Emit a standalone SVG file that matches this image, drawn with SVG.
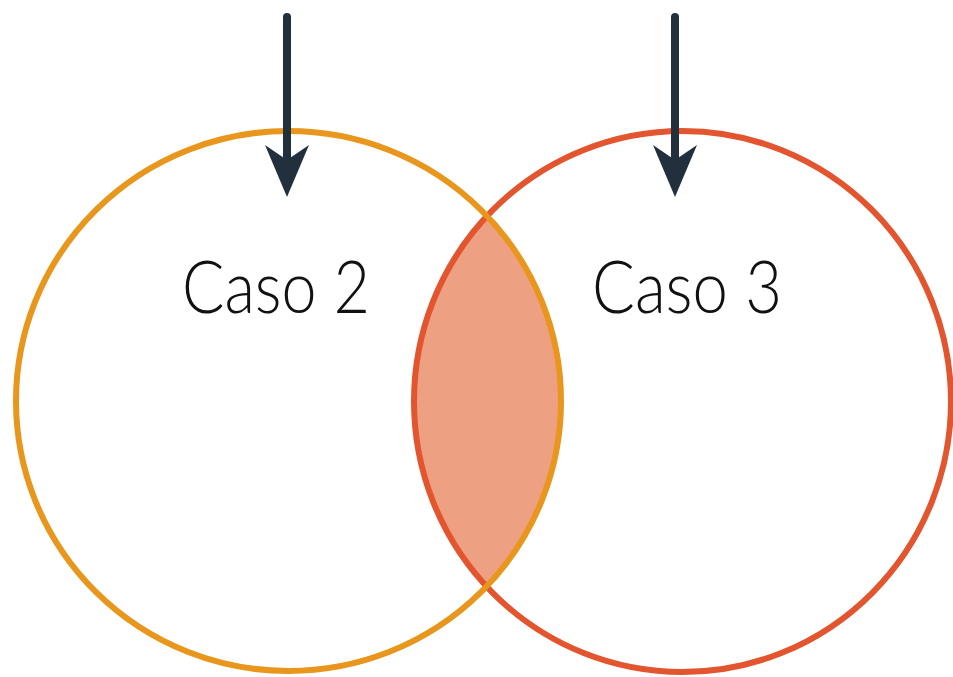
<svg xmlns="http://www.w3.org/2000/svg" width="953" height="677" viewBox="0 0 953 677">
  <style>
    .set { fill: none; stroke-width: 6; }
    .set-a { stroke: #E8961C; }
    .set-b { stroke: #E2552E; }
    .label { font-family: "Lato", "Liberation Sans", sans-serif; font-weight: 300; font-size: 73px; fill: #111111; text-anchor: middle; }
    .arrow { stroke: #22303E; stroke-width: 8; stroke-linecap: round; fill: none; marker-end: url(#head); }
  </style>
  <defs>
    <marker id="head" markerUnits="userSpaceOnUse" viewBox="0 0 52 44" markerWidth="52" markerHeight="44" refX="15" refY="22" orient="auto">
      <path d="M0,0 L52,22 L0,44 L15,22 Z" fill="#22303E"/>
    </marker>
    <clipPath id="clip-a">
      <ellipse cx="288.5" cy="401" rx="272.5" ry="270"/>
    </clipPath>
  </defs>
  <rect width="953" height="677" fill="#FFFFFF"/>

  <!-- shared region of both sets -->
  <g id="overlap">
    <ellipse cx="682.5" cy="401.5" rx="268.5" ry="270.5" fill="#EEA083" clip-path="url(#clip-a)"/>
  </g>

  <g id="caso3">
    <ellipse class="set set-b" cx="682.5" cy="401.5" rx="268.5" ry="270.5"/>
    <text class="label" x="687" y="313" textLength="190" lengthAdjust="spacingAndGlyphs">Caso 3</text>
  </g>

  <g id="caso2">
    <ellipse class="set set-a" cx="288.5" cy="401" rx="272.5" ry="270"/>
    <text class="label" x="276" y="313" textLength="188" lengthAdjust="spacingAndGlyphs">Caso 2</text>
  </g>

  <g id="connectors">
    <line class="arrow" x1="287" y1="17" x2="287" y2="160"/>
    <line class="arrow" x1="675" y1="17" x2="675" y2="160"/>
  </g>
</svg>
